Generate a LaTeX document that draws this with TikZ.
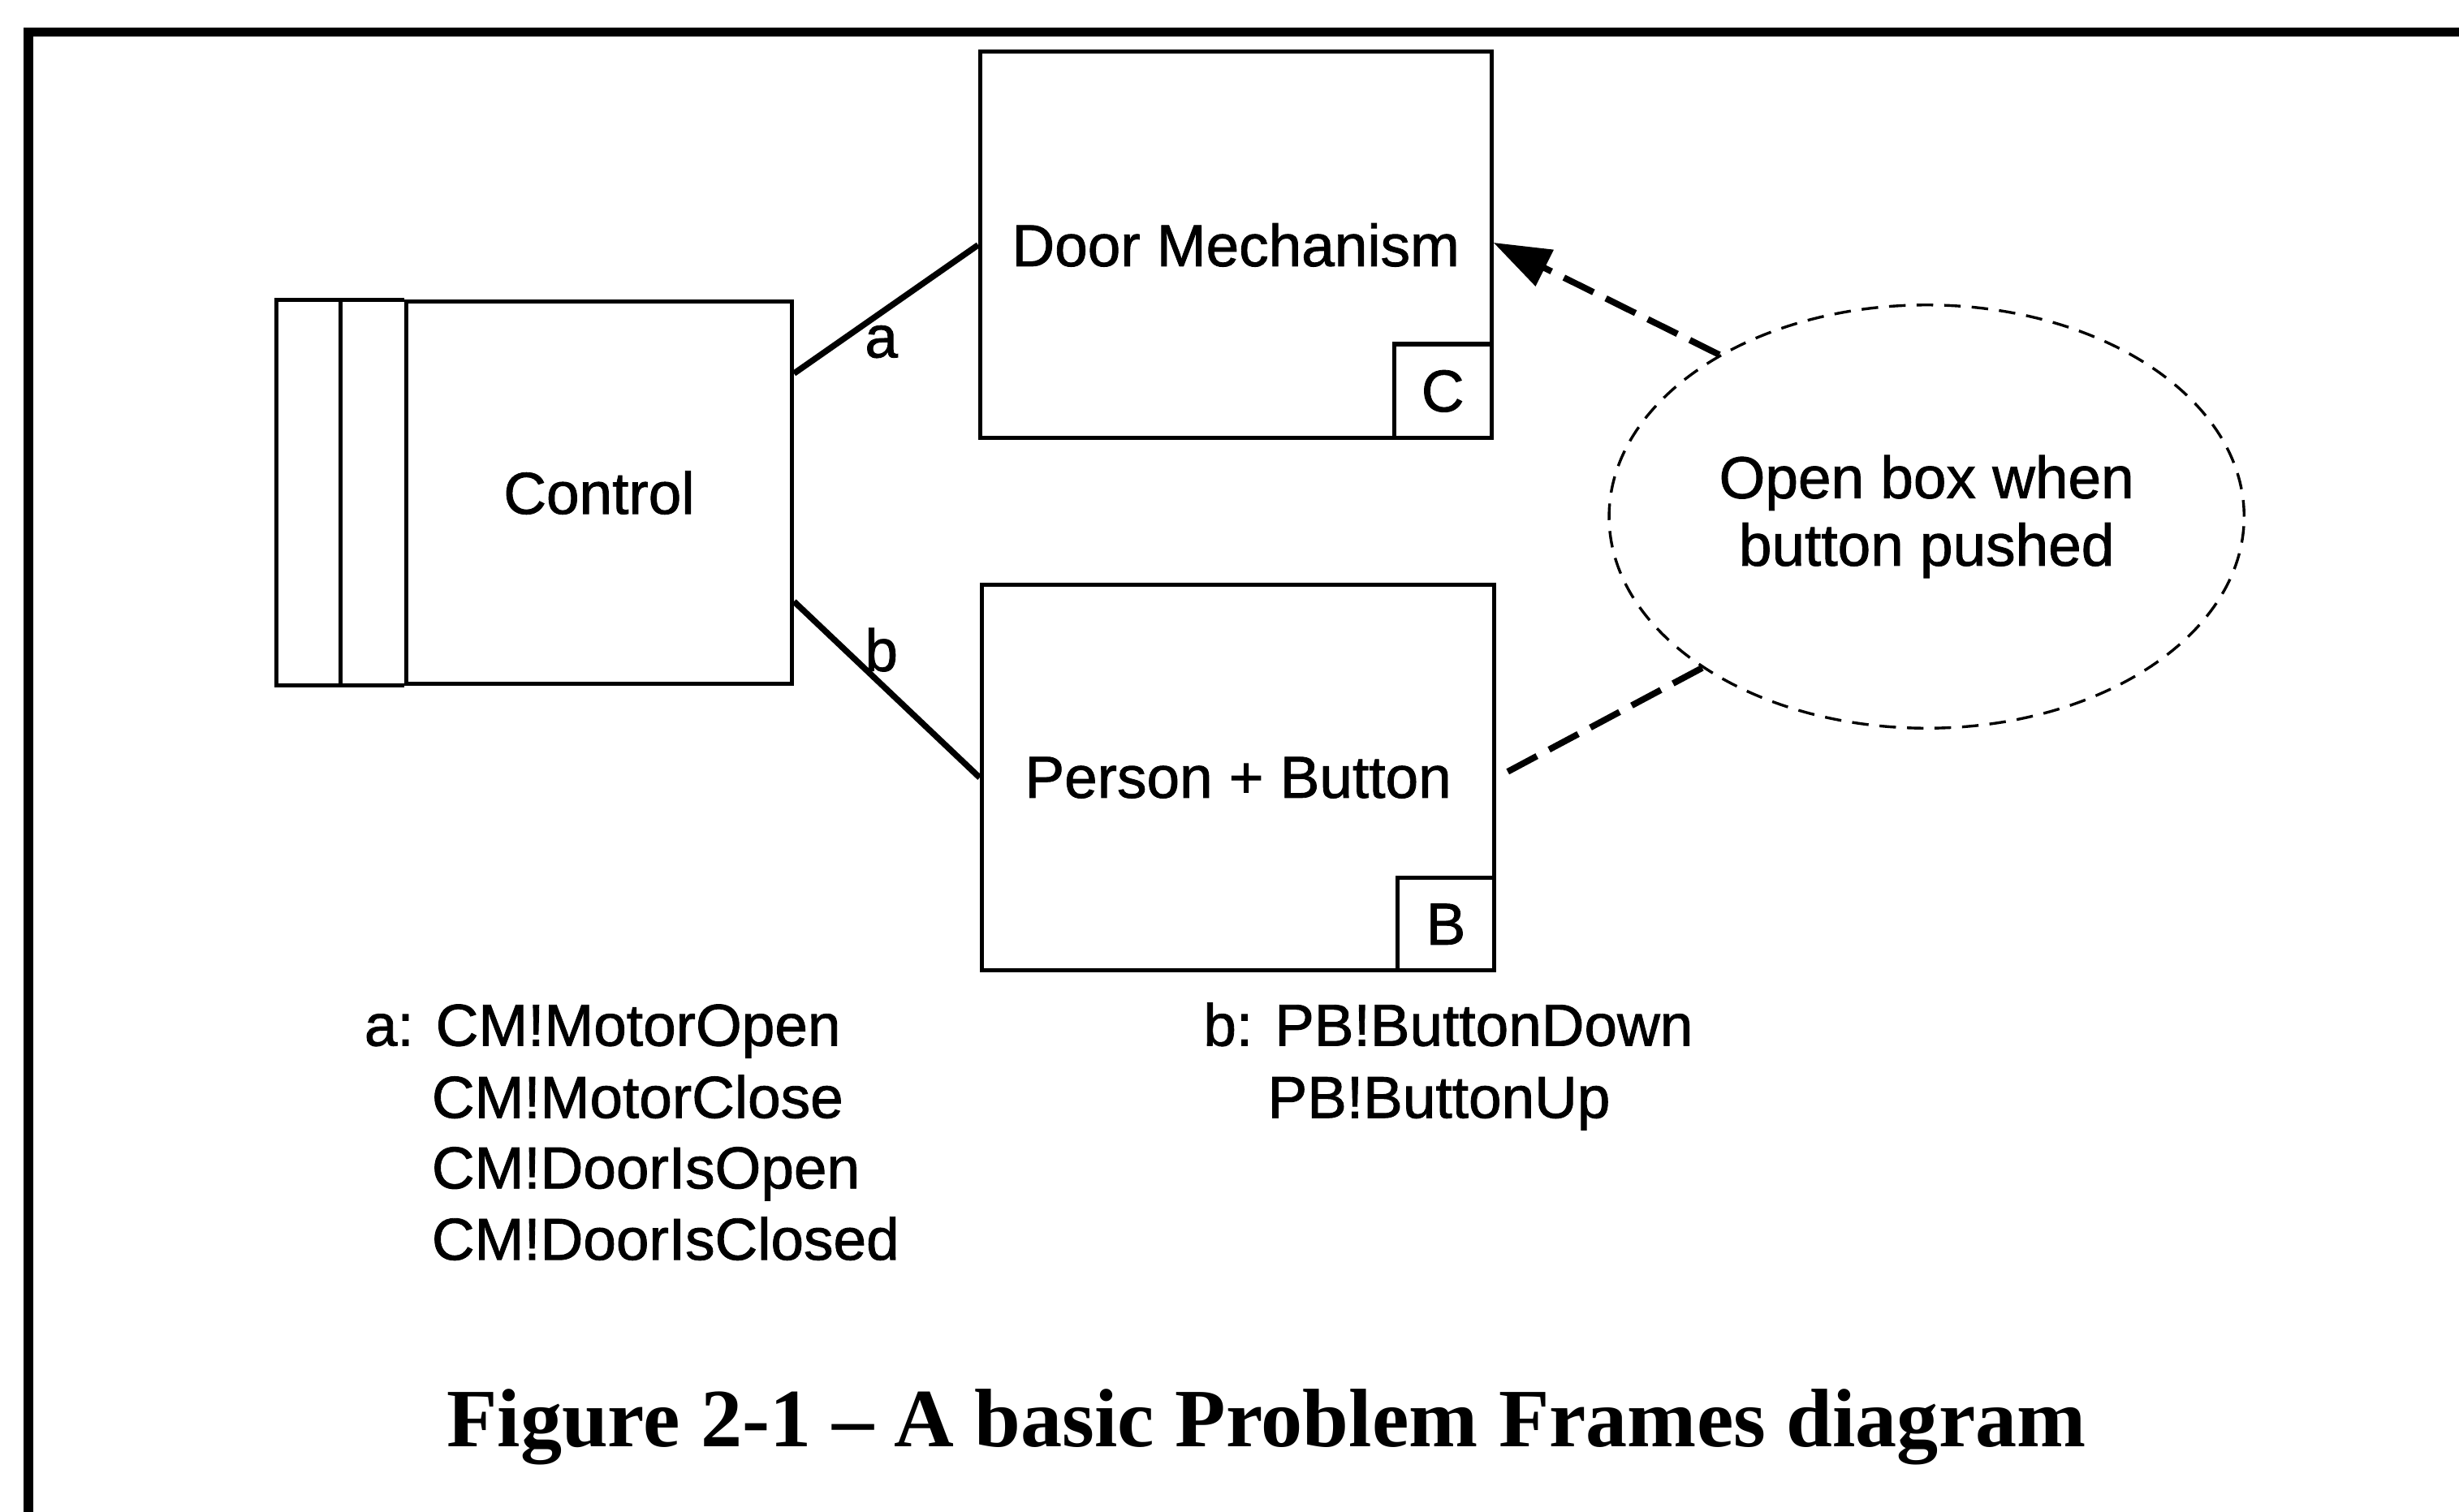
\documentclass[tikz,border=0pt]{standalone}
\usepackage{fontspec}
\setmainfont{Liberation Sans}[RawFeature={embolden=1.2}]
\newfontfamily\capfont{Liberation Serif}
\usetikzlibrary{arrows.meta,shapes.geometric,calc}
\begin{document}
\begin{tikzpicture}[x=0.02cm,y=-0.02cm,
  boxline/.style={line width=1.5pt},
  dombox/.style={boxline,draw,rectangle,inner sep=0pt,font=\fontsize{21.5}{25}\selectfont},
  tagbox/.style={boxline,draw,rectangle,inner sep=0pt,minimum width=1.24cm,minimum height=1.2cm,font=\fontsize{21.5}{25}\selectfont},
  ifaceline/.style={line width=2.2pt},
  lbltxt/.style={inner sep=0pt,font=\fontsize{21.5}{25}\selectfont},
  listtxt/.style={inner sep=0pt,anchor=base west,font=\fontsize{21.5}{25}\selectfont},
  reqref/.style={line width=2.3pt,dash pattern=on 12pt off 5pt},
  reqell/.style={draw,ellipse,line width=1pt,dash pattern=on 6pt off 4pt,inner sep=0pt,
    minimum width=8.1cm,minimum height=5.4cm,align=center,font=\fontsize{21.5}{24.5}\selectfont}]
\useasboundingbox (0,0) rectangle (1568,964.4);
\clip (0,0) rectangle (1568,964.4);
% frame
\draw[line width=3.4pt] (18,990) -- (18,20.5) -- (1600,20.5);
% domains
\node[dombox,minimum width=6.52cm,minimum height=4.93cm] (dm) at (788,156.25) {Door Mechanism};
\node[tagbox,anchor=south east] (ctag) at (dm.south east) {C};
\node[dombox,minimum width=6.54cm,minimum height=4.92cm] (pb) at (789.5,496) {Person + Button};
\node[tagbox,anchor=south east,minimum height=1.18cm] (btag) at (pb.south east) {B};
\node[dombox,minimum width=4.92cm,minimum height=4.87cm] (ctrl) at (382,314.25) {Control};
\draw[boxline] (ctrl.north west) -- ++(-81.5,0) |- (ctrl.south west);
\draw[boxline] ($(ctrl.north west)+(-40.5,0)$) -- ($(ctrl.south west)+(-40.5,0)$);
% requirement
\node[reqell] (ell) at (1228.5,329.5) {Open box when\\button pushed};
% interfaces
\draw[ifaceline] ($(ctrl.north east)!0.191!(ctrl.south east)$) -- (dm.west);
\draw[ifaceline] ($(ctrl.north east)!0.782!(ctrl.south east)$) -- (pb.west);
\node[lbltxt] (la) at (562,218) {a};
\node[lbltxt] (lb) at (562,414.5) {b};
\draw[reqref,-{Triangle[length=0.73cm,width=0.5cm]}] (ell.142.5) -- ($(dm.east)+(0,-1.5)$);
\draw[reqref] (ell.214) -- (pb.east);
% phenomena
\node[listtxt] (pa1) at (232,667) {a: CM!MotorOpen};
\node[listtxt] (pa2) at (275,713) {CM!MotorClose};
\node[listtxt] (pa3) at (275,758) {CM!DoorIsOpen};
\node[listtxt] (pa4) at (275,803.5) {CM!DoorIsClosed};
\node[listtxt] (pb1) at (767,667) {b: PB!ButtonDown};
\node[listtxt] (pb2) at (808,713) {PB!ButtonUp};
% caption
\node[inner sep=0pt,anchor=base,font=\capfont\bfseries\fontsize{30.1}{34}\selectfont] (cap) at (807.5,922.6) {Figure 2-1 – A basic Problem Frames diagram};
\end{tikzpicture}
\end{document}
